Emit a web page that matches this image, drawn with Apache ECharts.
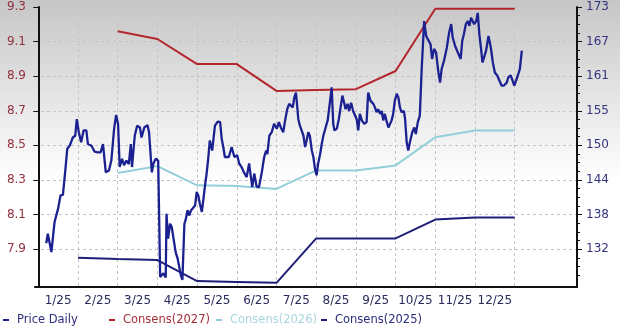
<!DOCTYPE html>
<html><head><meta charset="utf-8">
<script src="https://cdn.jsdelivr.net/npm/echarts@6/dist/echarts.min.js"></script>
<style>html,body{margin:0;padding:0;background:#fff}#c{width:620px;height:328px;}</style>
</head><body><div id="c"></div>
<script>
// Month labels (x axis, months 0..11 of 2025; x unit = months since Jan 1)
const monthLabels = ['1/25','2/25','3/25','4/25','5/25','6/25','7/25','8/25','9/25','10/25','11/25','12/25'];
const monthBounds = [0,1,2,3,4,5,6,7,8,9,10,11,12];
// Left axis (consensus EPS) tick labels
const leftTicks = [7.9,8.1,8.3,8.5,8.7,8.9,9.1,9.3];
// Right axis (price) tick labels
const rightTicks = [132,138,144,150,155,161,167,173];

// Price Daily (right axis)
const priceX = [0.20,0.24,0.33,0.41,0.50,0.56,0.62,0.68,0.73,0.79,0.87,0.93,0.97,1.02,1.08,1.14,1.21,1.25,1.34,1.42,1.50,1.57,1.63,1.70,1.78,1.84,1.91,1.96,2.01,2.05,2.11,2.16,2.22,2.28,2.33,2.36,2.43,2.49,
2.56,2.60,2.67,2.75,2.79,2.86,2.90,2.96,3.02,3.07,3.11,3.15,3.21,3.23,3.27,3.32,3.36,3.40,3.46,3.51,3.55,3.59,3.63,3.68,3.71,3.76,3.80,3.85,3.90,3.95,3.99,4.03,4.07,4.12,4.16,4.20,4.24,4.28,4.32,4.38,4.45,4.52,4.58,4.62,4.66,4.70,4.75,4.80,4.87,4.94,
5.01,5.06,5.12,5.18,5.25,5.31,5.35,5.39,5.44,5.50,5.56,5.63,5.69,5.74,5.77,5.82,5.88,5.94,6.01,6.06,6.11,6.17,6.21,6.27,6.32,6.37,6.41,6.45,6.49,6.51,6.55,6.59,6.63,6.68,6.72,6.76,6.80,6.84,6.89,6.93,6.97,7.01,7.05,7.10,7.14,7.18,7.25,
7.29,7.35,7.39,7.43,7.46,7.52,7.57,7.62,7.66,7.71,7.74,7.79,7.83,7.88,7.93,7.98,8.02,8.06,8.10,8.15,8.21,8.27,8.31,8.37,8.44,8.48,8.52,8.56,8.61,8.65,8.69,8.73,8.78,8.82,8.86,8.90,8.94,8.98,9.03,9.07,9.11,9.15,9.21,9.24,9.28,9.32,9.36,9.42,9.47,9.51,9.56,9.61,
9.66,9.72,9.77,9.82,9.88,9.92,9.97,10.02,10.08,10.12,10.16,10.22,10.29,10.35,10.40,10.44,10.50,10.55,10.60,10.64,10.68,10.72,10.77,10.82,10.86,10.90,10.94,10.98,11.03,11.07,11.11,11.15,11.19,11.23,11.28,11.34,11.40,11.45,11.50,11.56,11.61,11.67,11.73,11.80,11.84,11.90,11.95,11.99,12.03,12.08,12.13,12.18];
const priceY = [133.0,134.6,131.5,136.6,138.9,141.1,141.2,145.3,149.0,149.5,150.9,151.2,154.0,151.8,150.1,152.1,152.1,149.8,149.5,148.5,148.4,148.4,149.8,145.0,145.3,147.0,152.4,154.7,153.2,145.9,147.3,146.2,147.0,146.4,149.8,145.9,151.2,152.9,
152.6,150.9,152.6,153.0,151.8,145.0,146.5,147.3,147.0,127.3,127.6,127.9,127.2,138.0,133.8,136.3,135.8,136.0,131.5,130.4,130.1,127.6,126.8,136.3,136.9,138.6,137.7,138.6,138.3,139.4,141.7,141.1,139.7,138.3,140.5,142.8,144.8,147.3,150.4,148.7,152.9,153.6,153.5,150.7,149.3,147.6,147.9,147.6,149.3,147.6,
147.9,146.5,145.9,145.0,144.2,146.5,144.5,142.5,144.8,142.6,142.5,145.0,147.6,148.7,148.1,151.2,151.8,153.2,152.4,153.5,152.6,151.8,153.5,155.7,156.6,156.9,156.0,157.7,158.5,157.1,154.0,152.9,152.6,151.2,149.3,150.4,151.8,151.2,148.7,147.6,145.6,144.5,146.5,148.1,149.8,151.2,152.9,
153.8,157.1,159.4,153.2,152.1,152.4,154.0,154.3,158.0,156.6,155.7,156.6,155.4,156.8,155.4,155.2,154.0,152.1,154.9,153.8,153.2,153.5,158.5,157.1,156.6,156.0,155.2,155.7,154.9,155.4,153.8,154.9,153.5,152.6,152.9,153.8,154.9,157.1,158.3,157.7,156.0,155.2,155.4,154.0,150.1,148.7,150.1,151.8,152.6,151.5,153.5,154.6,
162.8,170.6,168.1,167.8,166.7,164.2,165.9,165.3,161.9,160.2,162.5,163.9,166.1,168.7,170.1,167.8,166.4,165.6,165.9,164.2,167.3,168.4,170.1,170.6,169.8,171.2,170.9,170.1,170.6,172.0,168.4,166.1,163.6,163.3,165.6,168.1,166.1,163.6,161.9,161.4,161.1,159.7,159.7,160.2,161.1,161.4,160.5,159.7,160.0,161.4,162.5,165.6];

// Consensus estimates (left axis), at month boundaries
const consX = [1,2,3,4,5,6,7,8,9,10,11,12];
const cons2027 = [null,9.16,9.115,8.97,8.97,8.815,8.82,8.825,8.93,9.29,9.29,9.29];
const cons2026 = [null,8.34,8.38,8.269,8.265,8.248,8.355,8.355,8.384,8.547,8.586,8.586];
const cons2025 = [7.85,7.843,7.837,7.715,7.71,7.705,7.962,7.962,7.962,8.071,8.083,8.083];

const zip = (xs, ys) => xs.map((x,i)=>[x, ys[i]]).filter(p=>p[1]!=null);

const rMin = 125.59, rMax = 173, r0 = 132, r1 = 173;
const rMajor = rightTicks.map((t,i)=> r0 + i*(r1-r0)/(rightTicks.length-1));
const rMinor = [];
for (let j=-4;j<=28;j++){ if (j%4!==0) rMinor.push(r0 + j*(r1-r0)/28); }

const FONT = 'DejaVu Sans';
const C_PRICE = '#1b2191', C_27 = '#b3262c', C_26 = '#93cfd9', C_25 = '#1f1f78';

const chart = echarts.init(document.getElementById('c'));
chart.setOption({
  animation:false,
  backgroundColor: new echarts.graphic.LinearGradient(0,0,0,1,[{offset:0,color:'#c6c6c6'},{offset:0.55,color:'#ffffff'},{offset:1,color:'#ffffff'}]),
  grid:{left:35,right:43,top:7,bottom:41,containLabel:false},
  xAxis:{type:'value',min:-0.083,max:13.57,
    axisLine:{show:true,onZero:false,lineStyle:{color:'#111',width:2}},
    axisTick:{show:false,customValues:monthBounds},
    splitLine:{show:true,lineStyle:{color:'#c4c4c4',type:[3,3],width:1}},
    axisLabel:{customValues:monthLabels.map((l,i)=>i+0.5),formatter:v=>monthLabels[Math.round(v-0.5)],
      color:'#2a2a5c',fontFamily:FONT,fontSize:12,margin:8}
  },
  yAxis:[
    {type:'value',position:'left',min:7.681,max:9.3,
      axisLine:{show:true,lineStyle:{color:'#111',width:2}},
      axisTick:{show:true,length:5,customValues:leftTicks,lineStyle:{color:'#111'}},
      axisLabel:{customValues:leftTicks,formatter:v=>v.toFixed(1),color:'#93303f',fontFamily:FONT,fontSize:12,margin:9},
      splitLine:{show:true,lineStyle:{color:'#c4c4c4',type:[3,3],width:1}}
    },
    {type:'value',position:'right',min:rMin,max:rMax,
      axisLine:{show:true,lineStyle:{color:'#111',width:2}},
      axisTick:{show:true,length:5,customValues:rMajor,lineStyle:{color:'#111'}},
      axisLabel:{customValues:rMajor,formatter:(v)=>String(rightTicks[rMajor.findIndex(m=>Math.abs(m-v)<0.01)] ?? Math.round(v)),color:'#34347e',fontFamily:FONT,fontSize:12,margin:9},
      splitLine:{show:false}
    },
    {type:'value',position:'right',min:rMin,max:rMax,
      axisLine:{show:false},
      axisTick:{show:true,length:3,customValues:rMinor,lineStyle:{color:'#111'}},
      axisLabel:{show:false},splitLine:{show:false}
    }
  ],
  legend:[
    {data:[{name:'Price Daily',textStyle:{color:'#2d2d7d'}}],left:3,top:314},
    {data:[{name:'Consens(2027)',textStyle:{color:'#a5303a'}}],left:109,top:314},
    {data:[{name:'Consens(2026)',textStyle:{color:'#a9d6de'}}],left:216,top:314},
    {data:[{name:'Consens(2025)',textStyle:{color:'#2d2d7d'}}],left:321,top:314}
  ].map(l=>Object.assign(l,{icon:'rect',itemWidth:6,itemHeight:2,padding:0,textStyle:Object.assign({fontFamily:FONT,fontSize:11.5,padding:[0,0,0,3]},l.data[0].textStyle)})),
  series:[
    {name:'Consens(2027)',type:'line',yAxisIndex:0,data:zip(consX,cons2027),showSymbol:false,lineStyle:{color:C_27,width:2},itemStyle:{color:C_27},z:2},
    {name:'Consens(2026)',type:'line',yAxisIndex:0,data:zip(consX,cons2026),showSymbol:false,lineStyle:{color:C_26,width:2},itemStyle:{color:C_26},z:2},
    {name:'Consens(2025)',type:'line',yAxisIndex:0,data:zip(consX,cons2025),showSymbol:false,lineStyle:{color:C_25,width:2},itemStyle:{color:C_25},z:2},
    {name:'Price Daily',type:'line',yAxisIndex:1,data:zip(priceX,priceY),showSymbol:false,lineStyle:{color:C_PRICE,width:2.3},itemStyle:{color:C_PRICE},z:3}
  ]
});
</script></body></html>
